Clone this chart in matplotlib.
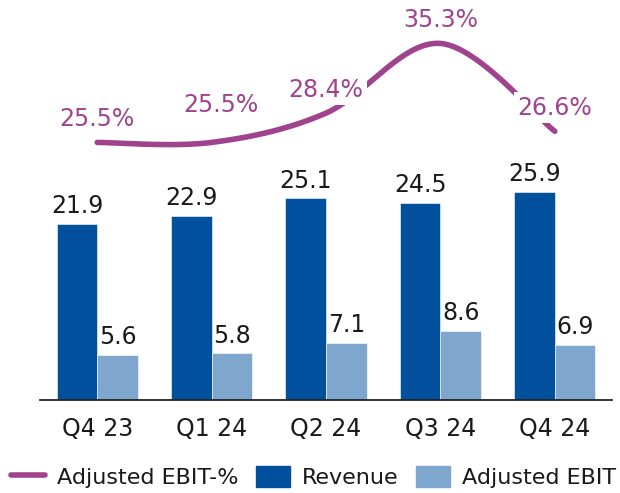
import numpy as np
import matplotlib
matplotlib.use('Agg')
import matplotlib.pyplot as plt
from matplotlib.lines import Line2D
from matplotlib.patches import Patch

# Data
quarters = ['Q4 23', 'Q1 24', 'Q2 24', 'Q3 24', 'Q4 24']
revenue = [21.9, 22.9, 25.1, 24.5, 25.9]
adj_ebit = [5.6, 5.8, 7.1, 8.6, 6.9]
ebit_pct = [25.5, 25.5, 28.4, 35.3, 26.6]

# label offsets for the % labels (points)
pct_offsets = [(0, 17), (7, 27), (0, 17), (0, 17), (0, 17)]

c_rev = '#00509E'
c_ebit = '#7FA7CD'
c_pct = '#A0438F'
c_text = '#1a1a1a'

plt.rcParams['font.family'] = ['DejaVu Sans']
fs = 17


def smooth(x, y, n=40):
    # Excel-style smoothed line (Catmull-Rom / cubic Bezier through the points)
    x = np.asarray(x, float)
    y = np.asarray(y, float)
    px = np.concatenate([[x[0]], x, [x[-1]]])
    py = np.concatenate([[y[0]], y, [y[-1]]])
    xs, ys = [], []
    t = np.linspace(0, 1, n)
    for i in range(1, len(px) - 2):
        p0 = np.array([px[i], py[i]])
        p3 = np.array([px[i + 1], py[i + 1]])
        p1 = p0 + (np.array([px[i + 1], py[i + 1]]) - np.array([px[i - 1], py[i - 1]])) / 6
        p2 = p3 - (np.array([px[i + 2], py[i + 2]]) - np.array([px[i], py[i]])) / 6
        b = ((1 - t) ** 3)[:, None] * p0 + (3 * (1 - t) ** 2 * t)[:, None] * p1 \
            + (3 * (1 - t) * t ** 2)[:, None] * p2 + (t ** 3)[:, None] * p3
        xs.append(b[:, 0])
        ys.append(b[:, 1])
    return np.concatenate(xs), np.concatenate(ys)


fig = plt.figure(figsize=(6.2, 4.93), dpi=100)
ax = fig.add_axes([40 / 620, 93 / 493, 572 / 620, 400 / 493])
x = np.arange(len(quarters))
w = 0.355

b1 = ax.bar(x - w / 2, revenue, w, color=c_rev, edgecolor='white', linewidth=0.4, zorder=2)
b2 = ax.bar(x + w / 2, adj_ebit, w, color=c_ebit, edgecolor='white', linewidth=0.4, zorder=2)

for bars, vals in [(b1, revenue), (b2, adj_ebit)]:
    for r, v in zip(bars, vals):
        ax.annotate(f'{v:.1f}', (r.get_x() + r.get_width() / 2, v), xytext=(0, 4),
                    textcoords='offset points', ha='center', va='bottom',
                    fontsize=fs, color=c_text)

ax.set_xlim(-0.5, len(quarters) - 0.5)
ax.set_ylim(0, 49.75)
ax.set_yticks([])
ax.set_xticks(x)
ax.set_xticklabels(quarters, fontsize=fs, color=c_text)
ax.tick_params(axis='x', length=0, pad=12)
for s in ['top', 'right', 'left']:
    ax.spines[s].set_visible(False)
ax.spines['bottom'].set_color('#222222')
ax.spines['bottom'].set_linewidth(1.3)

ax2 = ax.twinx()
ax2.set_ylim(0, 39.6)
ax2.set_yticks([])
for s in ['top', 'right', 'left', 'bottom']:
    ax2.spines[s].set_visible(False)

sx, sy = smooth(x, ebit_pct)
ax2.plot(sx, sy, color=c_pct, lw=4, solid_capstyle='round', zorder=3)
for xi, v, off in zip(x, ebit_pct, pct_offsets):
    ax2.annotate(f'{v:.1f}%', (xi, v), xytext=off, textcoords='offset points',
                 ha='center', va='center', fontsize=fs, color=c_pct, zorder=4,
                 bbox=dict(boxstyle='square,pad=0.15', fc='white', ec='none'))

handles = [Line2D([0], [0], color=c_pct, lw=4, solid_capstyle='round'),
           Patch(color=c_rev), Patch(color=c_ebit)]
labels = ['Adjusted EBIT-%', 'Revenue', 'Adjusted EBIT']
fig.legend(handles, labels, loc='center', bbox_to_anchor=(0.506, 0.033), ncol=3,
           frameon=False, fontsize=16, handlelength=1.5, handleheight=1.1,
           handletextpad=0.55, columnspacing=0.8, labelcolor=c_text)

fig.savefig('out.png', dpi=100)
